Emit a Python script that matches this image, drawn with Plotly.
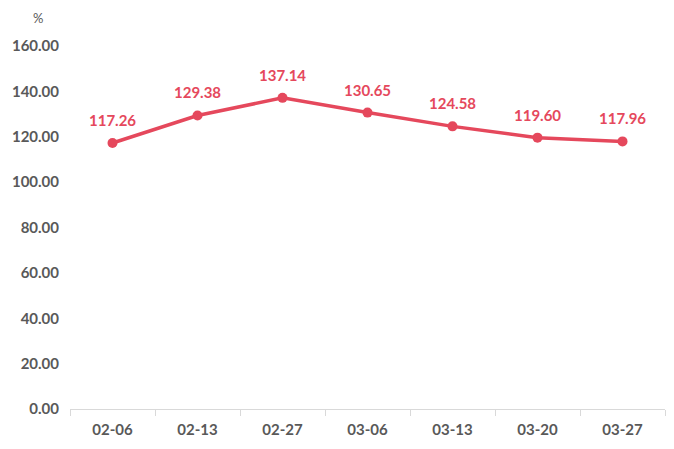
import plotly.graph_objects as go

dates = ['02-06', '02-13', '02-27', '03-06', '03-13', '03-20', '03-27']
values = [117.26, 129.38, 137.14, 130.65, 124.58, 119.60, 117.96]
y_ticks = [0, 20, 40, 60, 80, 100, 120, 140, 160]

red = '#E5485C'
gray = '#595959'
font = 'Lato, "Open Sans", Arial, sans-serif'

fig = go.Figure()
fig.add_trace(go.Scatter(
    x=dates,
    y=values,
    mode='lines+markers',
    line=dict(color=red, width=3.5),
    marker=dict(color=red, size=10),
    cliponaxis=False,
))

# data labels above each point
labels = [dict(
    x=d, y=v, text=f'{v:.2f}', showarrow=False,
    xanchor='center', yanchor='middle', yshift=23,
    font=dict(color=red, size=15, family=font, weight='bold'),
) for d, v in zip(dates, values)]

labels.append(dict(
    text='%', x=-0.054, y=1.077, xref='paper', yref='paper',
    xanchor='center', yanchor='middle', showarrow=False,
    font=dict(size=13, color=gray),
))

fig.update_layout(
    width=674,
    height=449,
    margin=dict(l=62, r=17, t=38, b=48),
    plot_bgcolor='white',
    paper_bgcolor='white',
    showlegend=False,
    font=dict(family=font, color=gray, size=15),
    xaxis=dict(
        type='category',
        range=[-0.5, 6.5],
        showgrid=False,
        showline=True,
        linecolor='#d9d9d9',
        linewidth=1,
        ticks='outside',
        tickson='boundaries',
        tickcolor='#d9d9d9',
        ticklen=6,
        ticklabelstandoff=7,
        automargin=False,
        tickfont=dict(size=15, color=gray, weight='bold'),
    ),
    yaxis=dict(
        range=[0, 160],
        tickvals=y_ticks,
        tickformat='.2f',
        showgrid=False,
        zeroline=False,
        showline=False,
        ticks='',
        ticklabelstandoff=10,
        automargin=False,
        tickfont=dict(size=15, color=gray, weight='bold'),
    ),
    annotations=labels,
)

fig.write_html('out.html')
